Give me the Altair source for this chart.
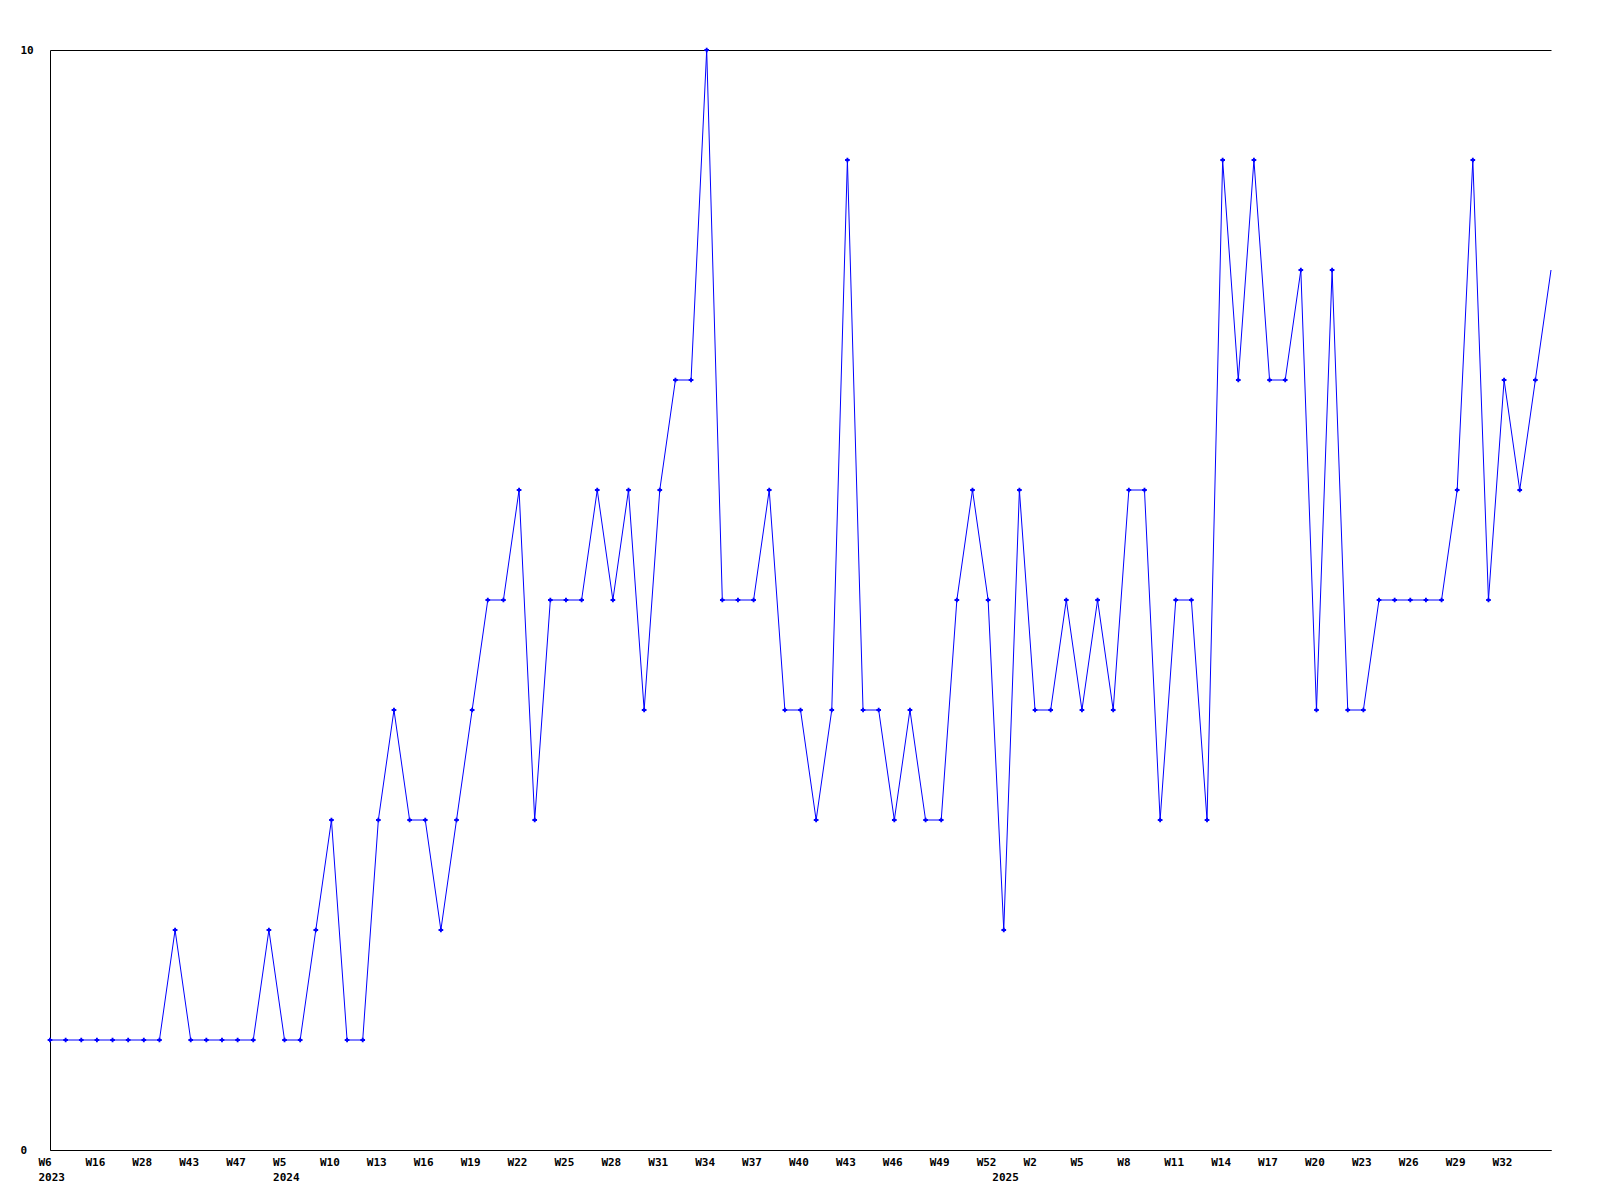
import altair as alt
import pandas as pd

# weekly counts, one per point (equally spaced)
values = [1, 1, 1, 1, 1, 1, 1, 1, 2, 1,
          1, 1, 1, 1, 2, 1, 1, 2, 3, 1,
          1, 3, 4, 3, 3, 2, 3, 4, 5, 5,
          6, 3, 5, 5, 5, 6, 5, 6, 4, 6,
          7, 7, 10, 5, 5, 5, 6, 4, 4, 3,
          4, 9, 4, 4, 3, 4, 3, 3, 5, 6,
          5, 2, 6, 4, 4, 5, 4, 5, 4, 6,
          6, 3, 5, 5, 3, 9, 7, 9, 7, 7,
          8, 4, 8, 4, 4, 5, 5, 5, 5, 5,
          6, 9, 5, 7, 6, 7, 8]

tick_pos = list(range(0, 96, 3))
tick_labels = ["W6", "W16", "W28", "W43", "W47", "W5", "W10", "W13", "W16", "W19",
               "W22", "W25", "W28", "W31", "W34", "W37", "W40", "W43", "W46", "W49",
               "W52", "W2", "W5", "W8", "W11", "W14", "W17", "W20", "W23", "W26",
               "W29", "W32"]
year_pos = [0, 15, 61]
year_labels = ["2023", "2024", "2025"]
y_ticks = [0, 10]

df = pd.DataFrame({"idx": list(range(len(values))), "value": values})

def js_arr(a):
    return "[" + ",".join(repr(v) if isinstance(v, str) else str(v) for v in a) + "]"

tp, tl, yp, yl = js_arr(tick_pos), js_arr(tick_labels), js_arr(year_pos), js_arr(year_labels)
label_expr = (
    f"[indexof({tp}, datum.value) >= 0 ? {tl}[indexof({tp}, datum.value)] : '', "
    f"indexof({yp}, datum.value) >= 0 ? {yl}[indexof({yp}, datum.value)] : '']"
)

FONT = "DejaVu Sans Mono"

x = alt.X(
    "idx:Q",
    scale=alt.Scale(domain=[0, len(values) - 1], nice=False, zero=False),
    axis=alt.Axis(
        values=sorted(set(tick_pos + year_pos)),
        labelExpr=label_expr,
        title=None,
        ticks=False,
        tickSize=0,
        grid=False,
        domainColor="black",
        domainWidth=1,
        labelAlign="left",
        labelBaseline="top",
        labelOffset=-12,
        labelPadding=6,
        labelLineHeight=15,
        labelOverlap=False,
        labelBound=False,
        labelFlush=False,
        labelFont=FONT,
        labelFontWeight="bold",
        labelFontSize=11,
        labelColor="black",
    ),
)
y = alt.Y(
    "value:Q",
    scale=alt.Scale(domain=[0, 10], nice=False),
    axis=alt.Axis(
        values=y_ticks,
        title=None,
        ticks=False,
        tickSize=0,
        grid=True,
        gridColor="black",
        gridOpacity=1,
        gridWidth=1,
        domainColor="black",
        domainWidth=1,
        labelAlign="left",
        labelBaseline="middle",
        labelPadding=30,
        labelFont=FONT,
        labelFontWeight="bold",
        labelFontSize=11,
        labelColor="black",
    ),
)

base = alt.Chart(df)
line = base.mark_line(color="#0000ff", strokeWidth=1).encode(x=x, y=y)
pts = base.transform_filter(f"datum.idx < {len(values) - 1}").mark_point(
    shape="cross", filled=True, color="#0000ff", size=22, opacity=1
).encode(x=x, y=y)

chart = (
    alt.layer(line, pts)
    .properties(
        width=1501,
        height=1100,
        autosize=alt.AutoSizeParams(type="none"),
        padding={"left": 42, "top": 42, "right": 40, "bottom": 50},
        background="white",
    )
    .configure_view(strokeWidth=0)
)

chart.save("out.html", embed_options={"renderer": "svg", "actions": False})
